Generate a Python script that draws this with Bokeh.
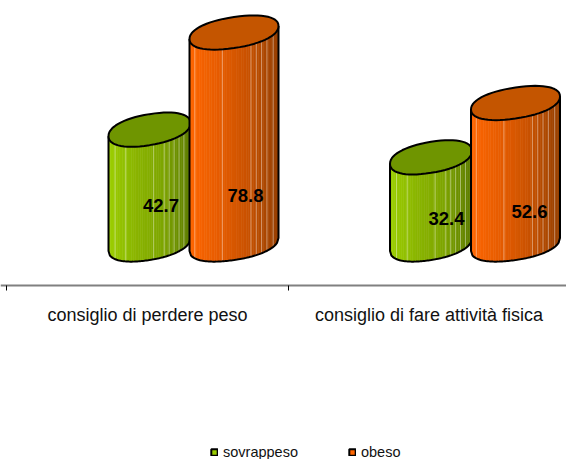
import numpy as np
from bokeh.core.properties import value
from bokeh.embed import file_html
from bokeh.models import ColumnDataSource, FixedTicker, Legend, LegendItem, LinearAxis, Range1d
from bokeh.plotting import figure
from bokeh.resources import INLINE

categories = ["consiglio di perdere peso", "consiglio di fare attività fisica"]
series_names = ["sovrappeso", "obeso"]
sovrappeso = [42.7, 32.4]
obeso = [78.8, 52.6]

FONT = "Liberation Sans"
W, H, AXIS_Y = 566, 459, 285
PX_CAT, CAT0_PX = 281.5, 147.0
PX_VAL, BASE_PX = 2.69, 244.0

x0 = -CAT0_PX / PX_CAT
y_top = BASE_PX / PX_VAL
y_bot = (BASE_PX - H) / PX_VAL
axis_val = (BASE_PX - AXIS_Y) / PX_VAL

p = figure(width=W, height=H, output_backend="svg", toolbar_location=None,
           x_axis_type=None, y_axis_type=None,
           x_range=Range1d(x0, x0 + W / PX_CAT), y_range=Range1d(y_bot, y_top),
           min_border=0, outline_line_color=None)
p.grid.visible = False
ax = LinearAxis(fixed_location=axis_val)
ax.ticker = FixedTicker(ticks=[0, 1], minor_ticks=[-0.5, 0.5, 1.5])
ax.major_label_overrides = {0: categories[0], 1: categories[1]}
ax.major_tick_line_color = None
ax.major_tick_out = 0
ax.major_tick_in = 0
ax.minor_tick_out = 5
ax.minor_tick_in = 0
ax.minor_tick_line_color = "black"
ax.axis_line_color = "#808080"
ax.axis_line_width = 2
ax.major_label_standoff = 14
ax.major_label_text_font = FONT
ax.major_label_text_font_size = "18px"
ax.major_label_text_color = "#111111"
p.add_layout(ax, "below")

STYLE = {
    "sovrappeso": dict(
        half=41.0, dx=2.0, ramp=["#9ccf00", "#8ab500", "#7ea500", "#5d7c00"], top="#6f9500",
        lights=[.08, .21, .55, .68, .74, .80, .86, .92]),
    "obeso": dict(
        half=44.5, dx=86.5, ramp=["#ff6600", "#e65c00", "#c85200", "#963f00"], top="#c45500",
        lights=[.06, .37, .69, .75, .81, .87, .94]),
}
TILT, BULGE, SUPER = 6.5, 15.5, 2.2


def hexmix(stops, f):
    rgb = np.array([[int(c[i:i + 2], 16) for i in (1, 3, 5)] for c in stops], float)
    t = f * (len(stops) - 1)
    i = min(int(t), len(stops) - 2)
    c = rgb[i] + (rgb[i + 1] - rgb[i]) * (t - i)
    return "#%02x%02x%02x" % tuple(int(round(v)) for v in c)


def cylinder(cat, val, st):
    half = st["half"]
    cx = cat + st["dx"] / PX_CAT
    hx = half / PX_CAT
    ty = TILT / PX_VAL
    by = BULGE / PX_VAL

    def lower(f, base):
        u = np.abs(2 * f - 1)
        return base + ty * (2 * f - 1) - by * np.clip(1 - u ** SUPER, 0, 1) ** (1 / SUPER)

    def centre(f, base):
        return base + ty * (2 * f - 1)

    edges = np.linspace(0, 1, 37)
    xs, ys, cols = [], [], []
    for a, b in zip(edges[:-1], edges[1:]):
        fa = np.linspace(a, b, 3)
        xx = cx + hx * (2 * fa - 1)
        xs.append(list(xx) + list(xx[::-1]))
        ys.append(list(lower(fa, 0.0)) + list(lower(fa[::-1], val)))
        cols.append(hexmix(st["ramp"], (a + b) / 2))
    p.patches(xs, ys, fill_color=cols, line_color=cols, line_width=0.6)

    lf = np.array(st["lights"])
    p.segment(cx + hx * (2 * lf - 1), lower(lf, 0.0), cx + hx * (2 * lf - 1), lower(lf, val),
              line_color="white", line_alpha=0.4, line_width=1)

    f = np.linspace(0, 1, 61)
    ox = cx + hx * (2 * f - 1)
    outline_x = [ox[0]] + list(ox) + [ox[-1]]
    outline_y = [centre(0, val)] + list(lower(f, 0.0)) + [centre(1, val)]
    p.line(outline_x, outline_y, line_color="black", line_width=2)

    t = np.linspace(0, 2 * np.pi, 61)
    cu = np.sign(np.cos(t)) * np.abs(np.cos(t)) ** (2 / SUPER)
    su = np.sign(np.sin(t)) * np.abs(np.sin(t)) ** (2 / SUPER)
    p.patch(cx + hx * cu, val + ty * cu + by * su, fill_color=st["top"], line_color="black", line_width=2)


for c in range(len(categories)):
    cylinder(c, sovrappeso[c], STYLE["sovrappeso"])
    cylinder(c, obeso[c], STYLE["obeso"])

labels = ColumnDataSource(dict(
    x=[0 + 13.5 / PX_CAT, 0 + 98 / PX_CAT, 1 + 17.5 / PX_CAT, 1 + 100.5 / PX_CAT],
    y=[0, 0, 0, 0],
    dy=[-39, -49, -26, -33],
    t=[f"{sovrappeso[0]}", f"{obeso[0]}", f"{sovrappeso[1]}", f"{obeso[1]}"],
))
p.text("x", "y", text="t", y_offset="dy", source=labels, text_font=value(FONT),
       text_font_style="bold", text_font_size="18.5px", text_align="center",
       text_baseline="middle", text_color="black")

nan = float("nan")
r1 = p.quad(left=[nan], right=[nan], top=[nan], bottom=[nan], fill_color="#99cc00", line_color="black", line_width=2)
r2 = p.quad(left=[nan], right=[nan], top=[nan], bottom=[nan], fill_color="#ff6600", line_color="black", line_width=2)
legend = Legend(items=[LegendItem(label=series_names[0], renderers=[r1], index=0),
                       LegendItem(label=series_names[1], renderers=[r2], index=0)],
                orientation="horizontal", location=(210, -1),
                glyph_width=8, glyph_height=8, label_standoff=5, spacing=50,
                padding=3, margin=0, border_line_color=None, background_fill_alpha=0,
                label_text_font=FONT, label_text_font_size="14.5px", label_text_color="#111111",
                label_height=12)
p.add_layout(legend, "center")

open("out.html", "w").write(file_html(p, INLINE))
